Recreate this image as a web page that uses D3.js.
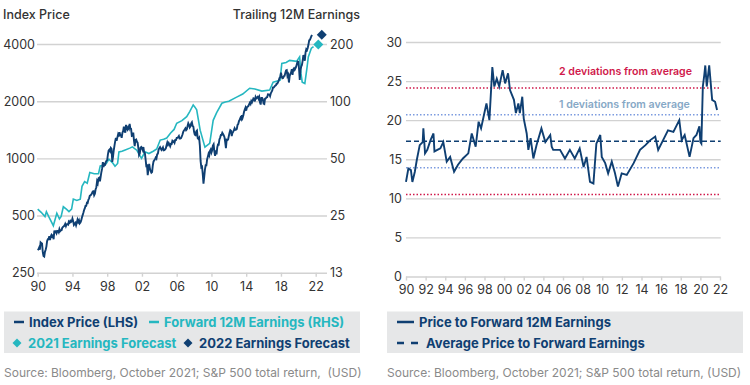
<!DOCTYPE html>
<html><head><meta charset="utf-8">
<script src="https://cdn.jsdelivr.net/npm/d3@7"></script>
<style>
body{margin:0;background:#fff}
svg{font-family:Inter,"Noto Sans",sans-serif}
</style>
</head><body>
<svg id="c" width="750" height="385"></svg>
<script>
// ---------- DATA ----------
// S&P 500 index price, monthly from Jan 1990
const indexStart = 1990;
const indexPrice = [
329,332,339,331,361,358,356,322,306,304,322,330,
343,367,375,375,389,371,387,395,388,392,375,417,
408,412,403,414,415,408,424,414,418,419,431,436,
439,443,452,440,450,451,448,464,459,468,462,466,
482,467,446,451,457,444,458,475,463,472,454,459,
470,487,501,515,533,545,562,562,584,582,605,616,
636,640,645,654,669,671,640,652,687,705,757,741,
786,791,757,801,848,885,954,899,947,915,955,970,
980,1049,1102,1112,1091,1134,1121,957,1017,1099,1164,1229,
1280,1238,1286,1335,1302,1373,1329,1320,1283,1363,1389,1469,
1394,1366,1499,1452,1421,1455,1431,1518,1437,1429,1315,1320,
1366,1240,1160,1249,1256,1224,1211,1134,1041,1060,1139,1148,
1130,1107,1147,1076,1067,990,912,916,815,886,936,880,
856,841,848,917,964,975,990,1008,996,1051,1058,1112,
1131,1145,1126,1107,1121,1141,1102,1104,1115,1130,1174,1212,
1181,1204,1181,1157,1192,1191,1234,1220,1229,1207,1249,1248,
1280,1281,1295,1311,1270,1270,1277,1304,1336,1378,1401,1418,
1438,1407,1421,1482,1531,1503,1455,1474,1527,1549,1481,1468,
1379,1331,1323,1386,1400,1280,1267,1283,1165,969,896,903,
826,735,798,873,919,919,987,1021,1057,1036,1096,1115,
1074,1104,1169,1187,1089,1031,1102,1049,1141,1183,1181,1258,
1286,1327,1326,1364,1345,1321,1292,1219,1131,1253,1247,1258,
1312,1366,1408,1398,1310,1362,1379,1407,1441,1412,1416,1426,
1498,1515,1569,1598,1631,1606,1686,1633,1682,1757,1806,1848,
1783,1859,1872,1884,1924,1960,1931,2003,1972,2018,2068,2059,
1995,2105,2068,2086,2107,2063,2104,1972,1920,2079,2080,2044,
1940,1932,2060,2065,2097,2099,2174,2171,2168,2126,2199,2239,
2279,2364,2363,2384,2412,2423,2470,2472,2519,2575,2648,2674,
2824,2714,2641,2648,2705,2718,2816,2902,2914,2712,2760,2507,
2704,2784,2834,2946,2752,2942,2980,2926,2977,3038,3141,3231,
3226,2954,2585,2912,3044,3100,3271,3500,3363,3270,3622,3756,
3714,3811,3973,4181,4204,4298,4395,4460
];
// Forward 12M earnings (RHS)
const fwdYears = [1990.0,1990.4,1990.84,1991.0,1991.3,1991.8,1992.2,1992.5,1992.7,1992.95,1993.3,1993.6,1993.9,1994.1,1994.5,1994.9,1995.1,1995.4,1995.7,1996.0,1996.5,1997.0,1997.2,1997.6,1997.9,1998.2,1998.6,1998.9,1999.2,1999.35,1999.7,2000.0,2000.6,2000.9,2001.4,2001.95,2002.35,2002.8,2003.3,2003.7,2004.1,2004.5,2004.85,2005.3,2005.7,2006.0,2006.6,2007.15,2007.5,2007.9,2008.1,2008.3,2008.7,2009.25,2009.8,2010.2,2010.6,2011.2,2011.6,2012.0,2012.9,2013.6,2014.4,2015.0,2015.8,2016.7,2017.1,2017.9,2018.1,2018.6,2019.0,2019.8,2020.15,2020.3,2020.45,2020.75,2021.0,2021.15,2021.5,2021.75];
const fwdEarnings = [27.0,26.0,24.7,26.2,24.5,22.1,25.7,24.0,24.7,27.8,27.0,26.2,27.0,30.5,30.0,30.5,35.6,37.7,37.0,42.1,41.5,41.5,45.6,46.0,47.0,49.5,47.5,45.4,47,54.1,54.5,55.2,56.6,57.5,55.2,50.0,54.1,53,54.5,56.0,62.4,63,64,68,71,76.5,79,82.9,88,95.6,93,90.0,70.4,57.3,60.0,79.3,87,97.5,99,100,105,109,117,116,113,114.5,126,129,158,160,164,162,171,140,126,124,150,171,190,194];
// Earnings forecasts (diamonds)
const forecastLabels = ["2021 Earnings Forecast","2022 Earnings Forecast"];
const forecastYears = [2022.3, 2022.7];
const forecastValues = [199, 224];
const leftTicks = [250,500,1000,2000,4000];
const rightTicks = [12.5,25,50,100,200];
const rightTickLabels = ["13","25","50","100","200"];
const leftYearTicks = [1990,1994,1998,2002,2006,2010,2014,2018,2022];

// Price to forward 12M earnings
const peYears = [1990.0,1990.24,1990.5,1990.65,1990.9,1991.1,1991.4,1991.7,1991.77,1991.94,1992.17,1992.5,1992.8,1992.9,1993.5,1993.8,1994.15,1994.5,1994.9,1995.3,1995.8,1996.35,1996.7,1997.1,1997.4,1997.65,1997.9,1998.2,1998.5,1998.8,1999.0,1999.25,1999.5,1999.85,2000.1,2000.4,2000.6,2001.0,2001.2,2001.45,2001.6,2001.85,2002.0,2002.3,2002.47,2002.7,2002.98,2003.3,2003.8,2004.2,2004.7,2004.85,2005.0,2005.36,2005.7,2006.2,2006.7,2007.2,2007.7,2008.1,2008.4,2008.75,2009.1,2009.4,2009.8,2009.95,2010.3,2010.6,2010.97,2011.3,2011.6,2011.98,2012.5,2013.2,2013.85,2014.4,2014.9,2015.4,2015.7,2016.1,2016.7,2017.25,2017.85,2018.1,2018.4,2018.9,2019.3,2019.6,2019.9,2020.0,2020.1,2020.25,2020.4,2020.5,2020.65,2020.9,2021.2,2021.5,2021.7];
const peValues = [12.1,13.8,13.6,12.1,13.4,14.9,16.8,17.2,18.95,15.75,16.2,17.45,18.3,16.0,16.4,17.2,14.7,15.3,13.4,14.3,15.1,15.75,18.3,16.6,19.8,18.95,20.4,22.15,20.0,26.8,24.3,25.3,24.3,26.4,24.7,26.0,23.85,22.6,20.9,22.15,20.9,23.0,20.2,18.3,16.2,17.7,15.1,16.8,18.95,17.2,18.1,16.6,16.2,16.2,16.2,15.1,16.2,15.1,16.4,14.0,15.3,12.1,11.9,17.0,18.1,15.3,14.5,13.2,14.7,13.2,11.5,13.2,13.0,14.5,16.2,16.8,17.45,17.9,16.2,17.2,18.7,18.5,20.0,17.45,18.1,15.3,17.7,18.1,19.2,17.2,17.0,24.3,25.8,27.0,24.3,27.0,22.6,22.35,21.3];
const peAverage = 17.3;
const peDeviation = 3.4;
const peTicks = [0,5,10,15,20,25,30];
const rightYearTicks = d3.range(1990, 2023, 2);

// ---------- STYLE ----------
const NAVY = "#0f3f72", TEAL = "#25b7c0", GRID = "#d2d2d2", TXT = "#333",
      RED = "#d0194b", BLUE = "#7c9be0", LBLUE = "#86a8c6", LEG_BG = "#e6e7e8", SRC = "#8a8a8a";

const svg = d3.select("#c");
const fmtYr = d => String(d % 100).padStart(2, "0");

// ---------- LEFT CHART ----------
const x1 = d3.scaleLinear([1990, 2022], [37.7, 315.7]);
const y1 = d3.scaleLog([250, 4000], [272.7, 44]);
const y1r = d3.scaleLog([12.5, 200], [272.7, 44]);
const L = svg.append("g");

const gl = L.append("g").attr("transform", "translate(37,0)")
  .call(d3.axisLeft(y1).tickValues(leftTicks).tickFormat(d3.format("d")).tickSize(-(327 - 37)).tickPadding(2));
gl.select(".domain").remove();
gl.selectAll("line").attr("stroke", GRID).attr("stroke-width", 1.4);
gl.selectAll("text").attr("font-size", 12.5).attr("fill", TXT).attr("font-family", "Inter");

const gr = L.append("g").attr("transform", "translate(327,0)")
  .call(d3.axisRight(y1r).tickValues(rightTicks).tickFormat((d, i) => rightTickLabels[i]).tickSize(0).tickPadding(3));
gr.select(".domain").remove();
gr.selectAll("text").attr("font-size", 12.5).attr("fill", TXT).attr("font-family", "Inter");

const gb = L.append("g").attr("transform", "translate(0,272.7)")
  .call(d3.axisBottom(x1).tickValues(leftYearTicks).tickFormat(fmtYr).tickSize(4).tickPadding(5));
gb.select(".domain").remove();
gb.selectAll("line").attr("stroke", GRID).attr("stroke-width", 1.4);
gb.selectAll("text").attr("font-size", 12.5).attr("fill", TXT).attr("font-family", "Inter");

L.append("text").attr("x", 3).attr("y", 19).attr("font-size", 12.5).attr("font-weight", 500).attr("fill", TXT).text("Index Price");
L.append("text").attr("x", 360).attr("y", 19).attr("text-anchor", "end").attr("font-size", 12.5).attr("font-weight", 500).attr("fill", TXT).text("Trailing 12M Earnings");

const idxData = indexPrice.map((v, i) => [indexStart + i / 12, v]);
L.append("path").datum(d3.zip(fwdYears, fwdEarnings))
  .attr("fill", "none").attr("stroke", TEAL).attr("stroke-width", 1.6)
  .attr("d", d3.line().x(d => x1(d[0])).y(d => y1r(d[1])));
L.append("path").datum(idxData)
  .attr("fill", "none").attr("stroke", NAVY).attr("stroke-width", 1.9)
  .attr("d", d3.line().x(d => x1(d[0])).y(d => y1(d[1])));

const dsym = d3.symbol().type(d3.symbolSquare).size(50);
L.selectAll(".fc").data(d3.zip(forecastYears, forecastValues)).join("path")
  .attr("d", dsym)
  .attr("transform", d => `translate(${x1(d[0])},${y1r(d[1])}) rotate(45)`)
  .attr("fill", (d, i) => i === 0 ? TEAL : NAVY);

// left legend
L.append("rect").attr("x", 4).attr("y", 311.5).attr("width", 356).attr("height", 41.5).attr("fill", LEG_BG);
const leg1 = [
  {x: 14, y: 322, kind: "line", color: NAVY, label: "Index Price (LHS)"},
  {x: 149, y: 322, kind: "line", color: TEAL, label: "Forward 12M Earnings (RHS)"},
  {x: 14, y: 343, kind: "dia", color: TEAL, label: forecastLabels[0]},
  {x: 185, y: 343, kind: "dia", color: NAVY, label: forecastLabels[1]}
];
leg1.forEach(d => {
  if (d.kind === "line") {
    L.append("line").attr("x1", d.x).attr("x2", d.x + 10).attr("y1", d.y).attr("y2", d.y).attr("stroke", d.color).attr("stroke-width", 2.5);
    L.append("text").attr("x", d.x + 15).attr("y", d.y + 4.6).attr("font-size", 13).attr("font-weight", 700).attr("fill", d.color).text(d.label);
  } else {
    L.append("path").attr("d", d3.symbol().type(d3.symbolSquare).size(40)).attr("transform", `translate(${d.x + 3},${d.y}) rotate(45)`).attr("fill", d.color);
    L.append("text").attr("x", d.x + 14).attr("y", d.y + 4.6).attr("font-size", 13).attr("font-weight", 700).attr("fill", d.color).text(d.label);
  }
});
L.append("text").attr("x", 4).attr("y", 377).attr("font-size", 12).attr("fill", SRC).text("Source: Bloomberg, October 2021; S&P 500 total return,\u00a0 (USD)");

// ---------- RIGHT CHART ----------
const x2 = d3.scaleLinear([1990, 2022], [406, 720]);
const y2 = d3.scaleLinear([0, 30], [276.5, 42]);
const R = svg.append("g");

const g2 = R.append("g").attr("transform", "translate(406,0)")
  .call(d3.axisLeft(y2).tickValues(peTicks).tickSize(-(720.7 - 406)).tickPadding(4));
g2.select(".domain").remove();
g2.selectAll("line").attr("stroke", GRID).attr("stroke-width", 1.4);
g2.selectAll("text").attr("font-size", 12.5).attr("fill", TXT).attr("font-family", "Inter");

const g2b = R.append("g").attr("transform", "translate(0,276.5)")
  .call(d3.axisBottom(x2).tickValues(rightYearTicks).tickFormat(fmtYr).tickSize(4).tickPadding(5));
g2b.select(".domain").remove();
g2b.selectAll("line").attr("stroke", GRID).attr("stroke-width", 1.4);
g2b.selectAll("text").attr("font-size", 12.5).attr("fill", TXT).attr("font-family", "Inter");

const refLines = [
  {v: peAverage + 2 * peDeviation, color: RED, dash: "1.5,2", w: 1.5},
  {v: peAverage + peDeviation, color: BLUE, dash: "1.5,2", w: 1.5},
  {v: peAverage - peDeviation, color: BLUE, dash: "1.5,2", w: 1.5},
  {v: peAverage - 2 * peDeviation, color: RED, dash: "1.5,2", w: 1.5},
  {v: peAverage, color: NAVY, dash: "5,3", w: 1.6}
];
R.selectAll(".ref").data(refLines).join("line")
  .attr("x1", 406).attr("x2", 720.7)
  .attr("y1", d => y2(d.v)).attr("y2", d => y2(d.v))
  .attr("stroke", d => d.color).attr("stroke-dasharray", d => d.dash).attr("stroke-width", d => d.w);

R.append("text").attr("x", 559).attr("y", 75).attr("font-size", 10.6).attr("font-weight", 600).attr("fill", RED).text("2 deviations from average");
R.append("text").attr("x", 559).attr("y", 108).attr("font-size", 10.6).attr("font-weight", 600).attr("fill", LBLUE).text("1 deviations from average");

R.append("path").datum(d3.zip(peYears, peValues))
  .attr("fill", "none").attr("stroke", NAVY).attr("stroke-width", 1.9)
  .attr("d", d3.line().x(d => x2(d[0])).y(d => y2(d[1])));

R.append("rect").attr("x", 387).attr("y", 311.5).attr("width", 356).attr("height", 41.5).attr("fill", LEG_BG);
R.append("line").attr("x1", 397).attr("x2", 414).attr("y1", 322).attr("y2", 322).attr("stroke", NAVY).attr("stroke-width", 2.5);
R.append("text").attr("x", 419).attr("y", 326.6).attr("font-size", 13).attr("font-weight", 700).attr("fill", NAVY).text("Price to Forward 12M Earnings");
R.append("line").attr("x1", 397).attr("x2", 421).attr("y1", 343).attr("y2", 343).attr("stroke", NAVY).attr("stroke-width", 2.5).attr("stroke-dasharray", "7,7");
R.append("text").attr("x", 426).attr("y", 347.6).attr("font-size", 13).attr("font-weight", 700).attr("fill", NAVY).text("Average Price to Forward Earnings");
R.append("text").attr("x", 387).attr("y", 377).attr("font-size", 12).attr("fill", SRC).text("Source: Bloomberg, October 2021; S&P 500 total return, (USD)");
</script>
</body></html>
